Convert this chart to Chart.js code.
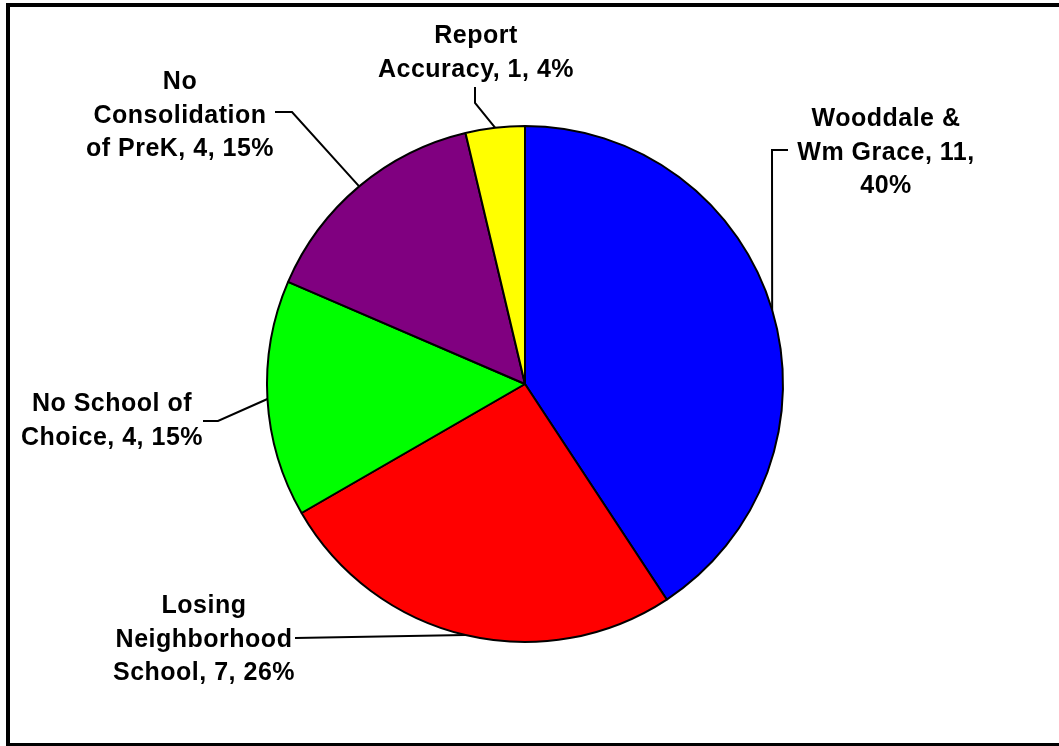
<!DOCTYPE html>
<html>
<head>
<meta charset="utf-8">
<script src="https://cdn.jsdelivr.net/npm/chart.js@4/dist/chart.umd.min.js"></script>
<style>
  html, body { margin: 0; padding: 0; background: #fff; overflow: hidden; }
  #wrap { position: relative; width: 1059px; height: 746px; }
  #frame { position: absolute; left: 6px; top: 3px; width: 1100px; height: 736px; border: 4px solid #000; }
  #chart { position: absolute; left: 0; top: 0; }
</style>
</head>
<body>
<div id="wrap">
  <div id="frame"></div>
  <canvas id="chart" width="1059" height="746"></canvas>
</div>
<script>
// data
var categories = ["Wooddale & Wm Grace", "Losing Neighborhood School", "No School of Choice", "No Consolidation of PreK", "Report Accuracy"];
var counts = [11, 7, 4, 4, 1];
var percents = [40, 26, 15, 15, 4];   // as printed on the chart
var colors = ["#0000FF", "#FF0000", "#00FF00", "#800080", "#FFFF00"];

// how many words go on each label line
var wrapWords = [[2, 3, 1], [1, 1, 3], [3, 3], [1, 1, 4], [1, 3]];

// label placement, offsets from the pie centre (layout only)
var labelPos = [
  { x: 361, y: -267, leader: [[247, -234], [263, -234]] },
  { x: -321, y: 220, leader: [[-230, 254]] },
  { x: -413, y: 18, leader: [[-307, 37], [-322, 37]] },
  { x: -345, y: -304, leader: [[-233, -272], [-250, -272]] },
  { x: -49, y: -350, leader: [[-50, -281], [-50, -297]] }
];

function labelLines(i) {
  var words = (categories[i] + ", " + counts[i] + ", " + percents[i] + "%").split(" ");
  var lines = [];
  var k = 0;
  wrapWords[i].forEach(function(n) {
    lines.push(words.slice(k, k + n).join(" "));
    k += n;
  });
  return lines;
}

var leaderLabels = {
  id: 'leaderLabels',
  afterDraw: function(chart) {
    var ctx = chart.ctx;
    var arcs = chart.getDatasetMeta(0).data;
    ctx.save();
    arcs.forEach(function(arc, i) {
      var cx = arc.x, cy = arc.y;
      var mid = (arc.startAngle + arc.endAngle) / 2;
      var ax = cx + Math.cos(mid) * arc.outerRadius;
      var ay = cy + Math.sin(mid) * arc.outerRadius;
      var lp = labelPos[i];

      // leader line
      ctx.beginPath();
      ctx.moveTo(ax, ay);
      lp.leader.forEach(function(p) { ctx.lineTo(cx + p[0], cy + p[1]); });
      ctx.strokeStyle = "#000";
      ctx.lineWidth = 2;
      ctx.stroke();

      // text
      ctx.fillStyle = "#000";
      ctx.font = "bold 25px 'Liberation Sans', Arial, sans-serif";
      ctx.letterSpacing = "0.5px";
      ctx.textAlign = "center";
      ctx.textBaseline = "alphabetic";
      labelLines(i).forEach(function(t, j) {
        ctx.fillText(t, cx + lp.x, cy + lp.y + 9 + j * 33.5);
      });
    });
    ctx.restore();
  }
};

var ctx = document.getElementById("chart").getContext('2d');
var chart = new Chart(ctx, {
  type: 'pie',
  data: {
    labels: categories,
    datasets: [{
      data: counts,
      backgroundColor: colors,
      borderColor: "#000",
      borderWidth: 2
    }]
  },
  options: {
    responsive: false,
    animation: false,
    devicePixelRatio: 1,
    layout: { padding: { top: 125, bottom: 103, left: 200, right: 209 } },
    plugins: {
      legend: { display: false },
      tooltip: { enabled: false }
    }
  },
  plugins: [leaderLabels]
});
</script>
</body>
</html>
